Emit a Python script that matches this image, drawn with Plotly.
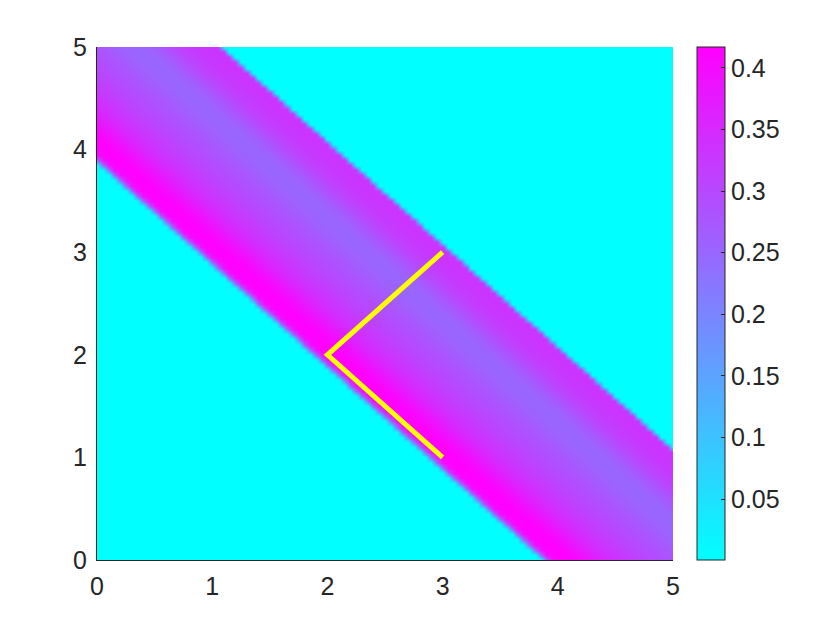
import numpy as np
import plotly.graph_objects as go

# grid of the map (x and y run 0..5 in steps of 0.05)
grid_x = np.linspace(0, 5, 101)
grid_y = np.linspace(0, 5, 101)

# value across the diagonal band, indexed by x + y
band_sum = [3.90, 3.95, 4.00, 4.05, 4.10, 4.15, 4.20, 4.25, 4.30, 4.35,
            4.40, 4.45, 4.50, 4.55, 4.60, 4.65, 4.70, 4.75, 4.80, 4.85,
            4.90, 4.95, 5.00, 5.05, 5.10, 5.15, 5.20, 5.25, 5.30, 5.35,
            5.40, 5.45, 5.50, 5.55, 5.60, 5.65, 5.70, 5.75, 5.80, 5.85,
            5.90, 5.95, 6.00, 6.05]
band_level = [0.250, 0.392, 0.412, 0.417, 0.416, 0.410, 0.401, 0.390, 0.378, 0.366,
              0.355, 0.345, 0.337, 0.330, 0.323, 0.317, 0.311, 0.305, 0.300, 0.295,
              0.290, 0.285, 0.280, 0.275, 0.269, 0.263, 0.258, 0.254, 0.252, 0.251,
              0.253, 0.258, 0.266, 0.277, 0.288, 0.299, 0.308, 0.316, 0.322, 0.327,
              0.330, 0.332, 0.332, 0.330]
background = 0.0006

# yellow polyline
path_x = [3, 2, 3]
path_y = [3, 2, 1]

cbar_ticks = [0.05, 0.1, 0.15, 0.2, 0.25, 0.3, 0.35, 0.4]
axis_ticks = [0, 1, 2, 3, 4, 5]

level_by_index = {int(round(s * 20)): v for s, v in zip(band_sum, band_level)}
z = [[level_by_index.get(int(round((xv + yv) * 20)), background) for xv in grid_x]
     for yv in grid_y]

font = dict(family="Liberation Sans, Arial, sans-serif", size=25, color="#262626")

fig = go.Figure()
fig.add_trace(go.Heatmap(
    x=grid_x, y=grid_y, z=z, zsmooth="best",
    colorscale=[[0, "#00ffff"], [1, "#ff00ff"]],
    zmin=0.0006, zmax=0.417,
    colorbar=dict(
        x=(697 - 97) / 576, xanchor="left", xpad=0, y=0.5, yanchor="middle",
        len=1, lenmode="fraction", ypad=0,
        thickness=28, thicknessmode="pixels",
        outlinewidth=1, outlinecolor="#262626",
        tickvals=cbar_ticks, ticks="inside", ticklen=4, tickcolor="#262626",
        tickfont=font,
    ),
))
fig.add_trace(go.Scatter(
    x=path_x, y=path_y, mode="lines",
    line=dict(color="#ffff00", width=5),
    showlegend=False, hoverinfo="skip",
))

# the page adds an 8px body margin, so the figure is 8px smaller on each side
fig.update_layout(
    width=832, height=622,
    margin=dict(l=89, r=167, t=39, b=70),
    plot_bgcolor="white", paper_bgcolor="white",
    font=font, showlegend=False,
)
fig.update_xaxes(range=[0, 5], tickvals=axis_ticks, showgrid=False, zeroline=False,
                 showline=True, linecolor="#262626", linewidth=1, ticks="",
                 ticklabelstandoff=4, tickfont=font)
fig.update_yaxes(range=[0, 5], tickvals=axis_ticks, showgrid=False, zeroline=False,
                 showline=True, linecolor="#262626", linewidth=1, ticks="",
                 ticklabelstandoff=4, tickfont=font)

fig.write_html("out.html")
